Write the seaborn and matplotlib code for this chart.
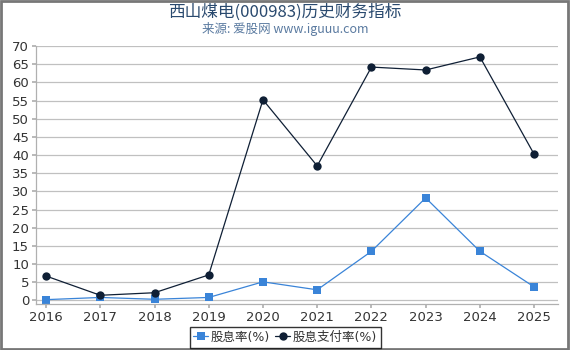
import matplotlib
matplotlib.use("Agg")
import matplotlib.pyplot as plt
import seaborn as sns
import pandas as pd

years = ["2016", "2017", "2018", "2019", "2020", "2021", "2022", "2023", "2024", "2025"]
dividend_yield = [0.2, 0.8, 0.3, 0.8, 5.1, 2.9, 13.5, 28.2, 13.5, 3.7]
payout_ratio = [6.7, 1.4, 2.1, 7.0, 55.2, 37.0, 64.2, 63.4, 67.0, 40.2]
yticks = list(range(0, 75, 5))

sns.set_theme(style="white")
plt.rcParams['font.family'] = ['DejaVu Sans', 'Noto Sans CJK SC']

fig = plt.figure(figsize=(5.7, 3.5), dpi=100)
ax = fig.add_axes([36/570, 1-304/350, (558-36)/570, (304-46)/350])

x = [int(y) for y in years]
df = pd.DataFrame({"year": x, "股息率(%)": dividend_yield, "股息支付率(%)": payout_ratio})

sns.lineplot(data=df, x="year", y="股息率(%)", ax=ax, color="#3a84d8", marker="s",
             markersize=6, markeredgewidth=0, linewidth=0.9, label="股息率(%)")
sns.lineplot(data=df, x="year", y="股息支付率(%)", ax=ax, color="#0f1f35", marker="o",
             markersize=6, markeredgewidth=0, linewidth=0.9, label="股息支付率(%)")

ax.set_xlim(2015.815, 2025.44)
ax.set_ylim(-1, 70)
ax.set_yticks(yticks)
ax.set_xticks(x)
ax.set_xticklabels(years)
ax.set_xlabel("")
ax.set_ylabel("")
for yv in yticks:
    ax.axhline(yv, color="#c0c0c0", linewidth=0.9, zorder=0)
for s in ["top", "right"]:
    ax.spines[s].set_visible(False)
for s in ["left", "bottom"]:
    ax.spines[s].set_color("#b0b0b0")
    ax.spines[s].set_linewidth(0.9)
ax.tick_params(axis="both", which="both", length=3, color="#b0b0b0", labelsize=9.5,
               labelcolor="#333333", pad=2)
ax.tick_params(axis="x", bottom=True)
ax.tick_params(axis="y", left=True)

ax.get_legend().remove()
handles, labels = ax.get_legend_handles_labels()
leg = fig.legend(handles, labels, loc="upper center", bbox_to_anchor=(0.5, 1-327/350),
                 ncol=2, frameon=True, fontsize=9, handlelength=1.2, handletextpad=0.2,
                 columnspacing=0.4, borderpad=0.3, borderaxespad=0, fancybox=False)
leg.get_frame().set_edgecolor("black")
leg.get_frame().set_linewidth(1.0)
for t in leg.get_texts():
    t.set_color("#333333")

fig.text(0.5, 1-12/350, "西山煤电(000983)历史财务指标", ha="center", va="center",
         fontsize=12, color="#2a4a6f", family=['Noto Sans CJK SC', 'DejaVu Sans'])
fig.text(0.5, 1-29/350, "来源: 爱股网 www.iguuu.com", ha="center", va="center",
         fontsize=9, color="#5a7aa0", family=['Noto Sans CJK SC', 'DejaVu Sans'])

border = plt.Rectangle((0.001, 0.002), 0.996, 0.996, transform=fig.transFigure,
                       fill=False, edgecolor="#777777", linewidth=2)
fig.patches.append(border)

fig.savefig("out.png", dpi=100)
